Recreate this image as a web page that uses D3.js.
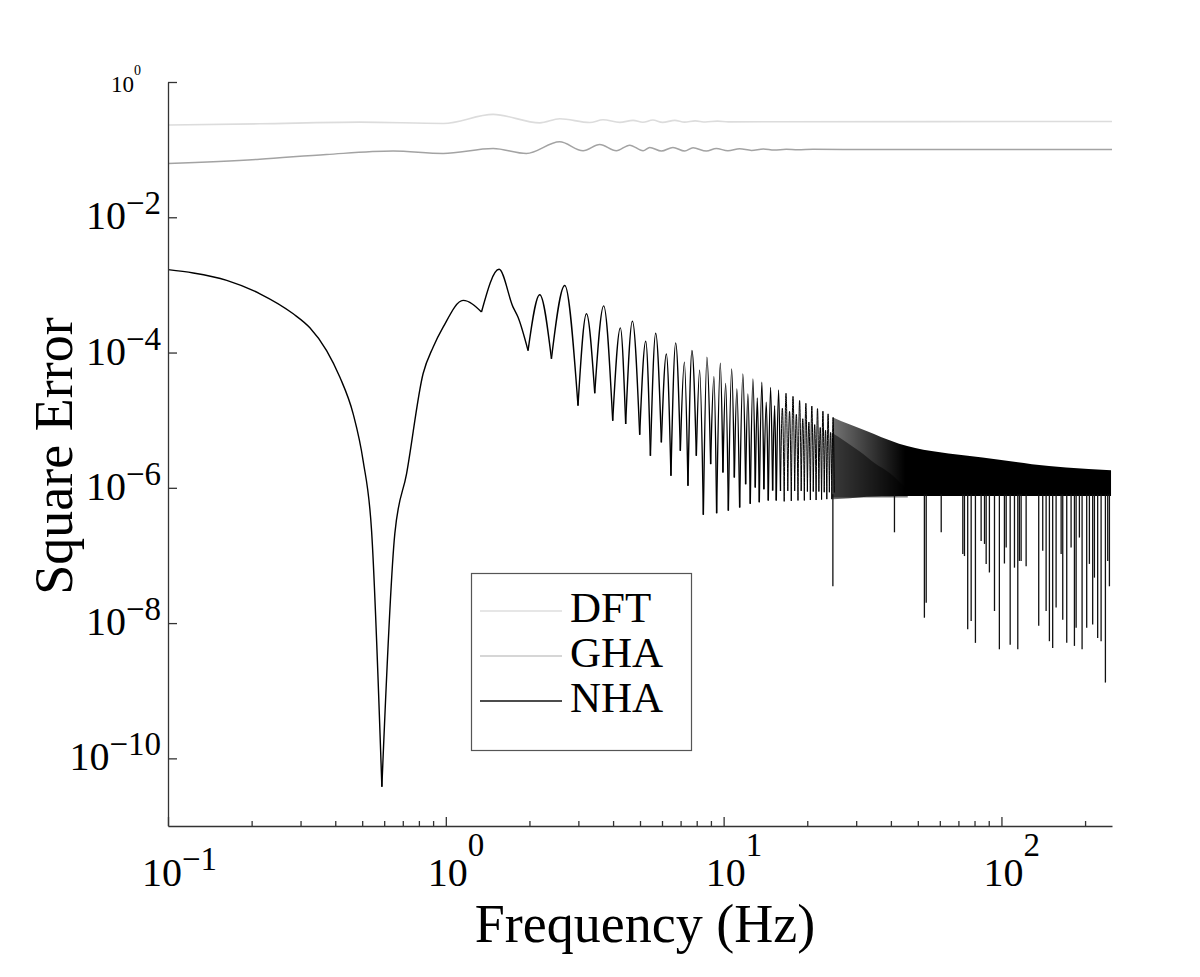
<!DOCTYPE html>
<html><head><meta charset="utf-8">
<script src="https://cdn.jsdelivr.net/npm/d3@7"></script>
<style>
body{margin:0;background:#fff}
text{font-family:"Liberation Serif","Times New Roman",serif;fill:#000}
</style>
</head><body>
<svg id="chart" width="1200" height="977"></svg>
<script>
// ---------------- data ----------------
const seriesNames = ["DFT", "GHA", "NHA"];
const xTickValues = [0.1, 1, 10, 100];
const xTickExponents = ["\u22121", "0", "1", "2"];
const yTickValues = [1, 1e-2, 1e-4, 1e-6, 1e-8, 1e-10];
const yTickExponents = ["0", "\u22122", "\u22124", "\u22126", "\u22128", "\u221210"];

// [frequency Hz, square error]
const dftData = [
  [0.1, 0.231], [0.214, 0.241], [0.49, 0.255], [0.98, 0.244], [1.48, 0.332],
  [2.18, 0.249], [2.57, 0.286], [3.30, 0.252], [3.68, 0.276], [4.23, 0.253],
  [4.72, 0.271], [5.12, 0.254], [5.56, 0.274], [6.03, 0.253], [6.67, 0.271],
  [7.24, 0.255], [7.9, 0.266], [8.6, 0.256], [9.5, 0.264], [10.4, 0.257],
  [15, 0.258], [250, 0.261]
];
const ghaData = [
  [0.1, 0.0624], [0.214, 0.0723], [0.372, 0.0848], [0.646, 0.0951], [0.978, 0.0878],
  [1.48, 0.104], [1.95, 0.0878], [2.57, 0.1305], [3.12, 0.0961], [3.58, 0.119],
  [4.11, 0.0961], [4.59, 0.1166], [5.13, 0.0961], [5.42, 0.1077], [5.97, 0.0951],
  [6.57, 0.1077], [7.24, 0.0951], [7.76, 0.1066], [8.67, 0.0951], [9.41, 0.104],
  [10.36, 0.0961], [11.42, 0.1028], [12.6, 0.0975], [13.9, 0.1020], [15.2, 0.0985],
  [16.8, 0.1015], [18.5, 0.0995], [21, 0.1010], [34.4, 0.1007], [250, 0.1007]
];
const nhaData = [
  [0.100, 1.68e-3], [0.1233, 1.50e-3], [0.1627, 1.17e-3], [0.2143, 7.4e-4],
  [0.2823, 3.74e-4], [0.3241, 2.32e-4], [0.3723, 1.07e-4], [0.4157, 4.31e-5],
  [0.4640, 1.24e-5], [0.5040, 2.5e-6], [0.5405, 2.31e-7], [0.5886, 3.8e-11],
  [0.6553, 2.1e-7], [0.7225, 1.62e-6], [0.8286, 4.9e-5], [0.900, 1.2e-4], [0.978, 2.37e-4],
  [1.154, 5.9e-4], [1.344, 3.98e-4], [1.555, 1.70e-3], [1.746, 4.7e-4],
  [1.820, 3.33e-4], [1.977, 1.07e-4], [2.178, 7.16e-4], [2.400, 8.1e-5],
  [2.680, 9.8e-4], [2.991, 1.64e-5], [3.208, 3.74e-4], [3.436, 2.5e-5],
  [3.70, 4.9e-4], [3.988, 9.8e-6], [4.249, 2.32e-4], [4.44, 8.8e-6],
  [4.695, 2.91e-4], [4.987, 6.1e-6], [5.243, 1.47e-4], [5.451, 2.98e-6],
  [5.694, 1.93e-4], [5.969, 4.7e-6], [6.221, 9.5e-5], [6.462, 1.51e-6],
  [6.720, 1.39e-4], [6.986, 3.53e-6], [7.222, 7.2e-5], [7.441, 1.07e-6],
  [7.691, 1.07e-4], [7.976, 2.98e-6], [8.198, 5.5e-5], [8.453, 4.0e-7],
  [8.709, 8.5e-5], [8.980, 2.24e-6], [9.228, 4.4e-5], [9.436, 4.2e-7],
  [9.729, 6.95e-5], [9.942, 1.69e-6], [10.17, 3.5e-5], [10.40, 4.6e-7],
  [10.69, 5.7e-5], [10.93, 1.42e-6], [11.16, 2.9e-5], [11.42, 5.1e-7],
  [11.73, 4.83e-5], [12.00, 1.13e-6], [12.23, 2.44e-5], [12.47, 5.8e-7],
  [12.75, 4.07e-5], [13.00, 1.01e-6], [13.22, 2.14e-5], [13.44, 6.1e-7],
  [13.73, 3.63e-5], [13.96, 9.5e-7], [14.24, 1.84e-5], [14.48, 6.5e-7],
  [14.76, 3.06e-5], [15.01, 9.1e-7], [15.26, 1.64e-5], [15.47, 6.5e-7],
  [15.77, 2.8e-5], [16.02, 9.0e-7], [16.27, 1.5e-5], [16.52, 6.3e-7],
  [16.77, 2.5e-5], [17.02, 9.0e-7], [17.27, 1.35e-5], [17.52, 6.4e-7],
  [17.77, 2.25e-5], [18.02, 9.0e-7], [18.27, 1.22e-5], [18.52, 6.5e-7],
  [18.77, 1.95e-5], [19.02, 9.0e-7], [19.27, 1.05e-5], [19.52, 6.5e-7],
  [19.77, 1.78e-5], [20.02, 8.8e-7], [20.27, 9.4e-6], [20.52, 6.6e-7],
  [20.77, 1.62e-5], [21.02, 8.8e-7], [21.27, 8.6e-6], [21.52, 6.6e-7],
  [21.77, 1.48e-5], [22.02, 8.8e-7], [22.27, 7.8e-6], [22.52, 6.7e-7],
  [22.77, 1.36e-5], [23.02, 8.6e-7], [23.27, 7.1e-6], [23.52, 6.8e-7],
  [23.77, 1.24e-5], [24.02, 8.6e-7], [24.27, 6.6e-6], [24.52, 6.8e-7],
  [24.77, 1.1e-5], [25.02, 8.5e-7]
];
// dense (unresolved) NHA oscillation band above ~25 Hz
const bandFreq  = [24.77, 28.5, 32.7, 37, 42.8, 56, 74.3, 98.3, 128.7, 171, 248];
const bandUpper = [1.1e-5, 8.6e-6, 6.9e-6, 5.6e-6, 4.5e-6, 3.5e-6, 3.0e-6, 2.6e-6, 2.24e-6, 2.0e-6, 1.82e-6];
const bandLower = [6.8e-7, 7.0e-7, 7.4e-7, 7.5e-7, 7.6e-7, 7.6e-7, 7.6e-7, 7.6e-7, 7.6e-7, 7.6e-7, 7.6e-7];
// denser inner wedge of the lower oscillation family
const wedgeFreq  = [24.5, 27.5, 31, 35, 40, 46];
const wedgeUpper = [6.5e-6, 4.8e-6, 3.4e-6, 2.3e-6, 1.6e-6, 9e-7];
// deep isolated minima in the dense region
const spikeFreq = [24.73, 41.2, 52.8, 53.6, 60.7, 72.6, 73.6, 75.6, 77.8, 80.6, 84.5, 86.9, 88.1,
  90.5, 94.4, 98.3, 102.5, 104.0, 107.5, 111.4, 114.5, 116.0, 117.7, 122.7, 136.2, 140.8,
  144.8, 148.8, 152.9, 157.3, 164.0, 166.2, 171.8, 178.1, 183.1, 185.7, 190.8, 195.1,
  202.7, 207.3, 213.0, 216.1, 222.0, 228.4, 236.7, 241.3, 244.7];
const spikeVal = [3.5e-8, 2.2e-7, 1.2e-8, 2.0e-8, 2.2e-7, 1.05e-7, 9.8e-8, 8.1e-9, 1.07e-8, 5.1e-9,
  1.64e-7, 1.48e-7, 7.5e-8, 5.6e-8, 1.51e-8, 4.1e-9, 7.6e-8, 1.31e-7, 4.8e-9, 6.6e-8, 4.1e-9,
  8.3e-8, 8.3e-8, 6.9e-8, 9.1e-9, 1.17e-7, 1.51e-8, 5.4e-9, 4.3e-9, 1.7e-8, 1.05e-7, 1.12e-8,
  5.1e-9, 1.31e-7, 4.6e-9, 8.5e-9, 1.84e-7, 4.1e-9, 8.5e-9, 7.5e-8, 9.5e-9, 4.7e-8, 6.0e-9,
  5.4e-9, 1.32e-9, 8.3e-8, 3.5e-8];

// ---------------- chart ----------------
const svg = d3.select("#chart");
const x = d3.scaleLog().domain([0.1, 250]).range([168, 1112]);
const y = d3.scaleLog().domain([1e-11, 1]).range([826, 82]);
const colors = {DFT: "#dcdcdc", GHA: "#a3a3a3", NHA: "#000"};
const legendColors = {DFT: "#dedede", GHA: "#c8c8c8", NHA: "#111"};

const line = d3.line().x(d => x(d[0])).y(d => y(d[1])).curve(d3.curveMonotoneX);

// gradient for dense band
const defs = svg.append("defs");
const grad = defs.append("linearGradient").attr("id", "bandGrad")
  .attr("gradientUnits", "userSpaceOnUse")
  .attr("x1", x(24.77)).attr("x2", x(45)).attr("y1", 0).attr("y2", 0);
grad.append("stop").attr("offset", 0).attr("stop-color", "#000").attr("stop-opacity", 0.55);
grad.append("stop").attr("offset", 1).attr("stop-color", "#000").attr("stop-opacity", 1);

// DFT & GHA
svg.append("path").datum(dftData).attr("d", line)
  .attr("fill", "none").attr("stroke", colors.DFT).attr("stroke-width", 1.6);
svg.append("path").datum(ghaData).attr("d", line)
  .attr("fill", "none").attr("stroke", colors.GHA).attr("stroke-width", 1.5);

// dense band
const band = bandFreq.map((f, i) => ({f, hi: bandUpper[i], lo: bandLower[i]}));
svg.append("path").datum(band)
  .attr("d", d3.area().x(d => x(d.f)).y0(d => y(d.lo)).y1(d => y(d.hi)).curve(d3.curveMonotoneX))
  .attr("fill", "url(#bandGrad)");
const wedge = wedgeFreq.map((f, i) => ({f, hi: wedgeUpper[i]}));
svg.append("path").datum(wedge)
  .attr("d", d3.area().x(d => x(d.f)).y0(y(7.2e-7)).y1(d => y(d.hi)).curve(d3.curveMonotoneX))
  .attr("fill", "#000").attr("fill-opacity", 0.5);

// spikes
svg.append("g").selectAll("line").data(spikeFreq.map((f, i) => [f, spikeVal[i]])).join("line")
  .attr("x1", d => x(d[0])).attr("x2", d => x(d[0]))
  .attr("y1", y(8e-7)).attr("y2", d => y(d[1]))
  .attr("stroke", "#111").attr("stroke-width", 1.3);

// NHA resolved part: split at local minima so troughs are sharp
const segs = [];
let cur = [nhaData[0]];
for (let i = 1; i < nhaData.length; i++) {
  cur.push(nhaData[i]);
  const isMin = i < nhaData.length - 1 && nhaData[i][1] < nhaData[i - 1][1] && nhaData[i][1] < nhaData[i + 1][1];
  if (isMin) { segs.push(cur); cur = [nhaData[i]]; }
}
segs.push(cur);
svg.append("g").selectAll("path").data(segs).join("path")
  .attr("d", line).attr("fill", "none").attr("stroke", colors.NHA)
  .attr("stroke-width", d => d[0][0] > 15.5 ? 1.0 : 1.4);

// axes
const axColor = "#333";
svg.append("g").attr("transform", "translate(0,826)")
  .call(d3.axisBottom(x).tickValues(xTickValues).tickSizeInner(-9).tickSizeOuter(0).tickFormat(""));
const minor = x.ticks().filter(v => !xTickValues.some(t => Math.abs(t - v) < 1e-9));
const gxm = svg.append("g").attr("transform", "translate(0,826)")
  .call(d3.axisBottom(x).tickValues(minor).tickSizeInner(-5).tickSizeOuter(0).tickFormat(""));
gxm.select(".domain").remove();
svg.append("g").attr("transform", "translate(168,0)")
  .call(d3.axisLeft(y).tickValues(yTickValues).tickSizeInner(-9).tickSizeOuter(0).tickFormat(""));
svg.selectAll(".domain, .tick line").attr("stroke", axColor).attr("stroke-width", 1.3);

// x tick labels
xTickValues.forEach((v, i) => {
  const neg = xTickExponents[i].startsWith("\u2212");
  const cx = x(v) + (neg ? -6 : 2);
  svg.append("text").attr("x", cx).attr("y", 886).attr("text-anchor", "middle")
    .attr("font-size", 40).text("10");
  svg.append("text").attr("x", cx + 20).attr("y", neg ? 870 : 856).attr("text-anchor", "start")
    .attr("font-size", 33).text(xTickExponents[i]);
});
// y tick labels
yTickValues.forEach((v, i) => {
  if (v === 1) {
    const t = svg.append("text").attr("x", 141).attr("y", 92).attr("text-anchor", "end");
    t.append("tspan").attr("font-size", 23).text("10");
    t.append("tspan").attr("font-size", 14).attr("dy", -17).text(yTickExponents[i]);
  } else {
    const t = svg.append("text").attr("x", 161).attr("y", y(v) + 12).attr("text-anchor", "end");
    t.append("tspan").attr("font-size", 40).text("10");
    t.append("tspan").attr("font-size", 33).attr("dy", -15).text(yTickExponents[i]);
  }
});

// axis titles
svg.append("text").attr("x", 645).attr("y", 942).attr("text-anchor", "middle")
  .attr("font-size", 54).text("Frequency (Hz)");
svg.append("text").attr("transform", "translate(72,456) rotate(-90)").attr("text-anchor", "middle")
  .attr("font-size", 54).text("Square Error");

// legend
const lg = svg.append("g");
lg.append("rect").attr("x", 471.5).attr("y", 573.5).attr("width", 220).attr("height", 177)
  .attr("fill", "#fff").attr("stroke", "#555").attr("stroke-width", 1.2);
const legendY = [611, 656, 701];
seriesNames.forEach((s, i) => {
  lg.append("line").attr("x1", 480).attr("x2", 562).attr("y1", legendY[i]).attr("y2", legendY[i])
    .attr("stroke", legendColors[s]).attr("stroke-width", 1.6);
  lg.append("text").attr("x", 570).attr("y", legendY[i] + 11).attr("font-size", 43).text(s);
});
</script>
</body></html>
